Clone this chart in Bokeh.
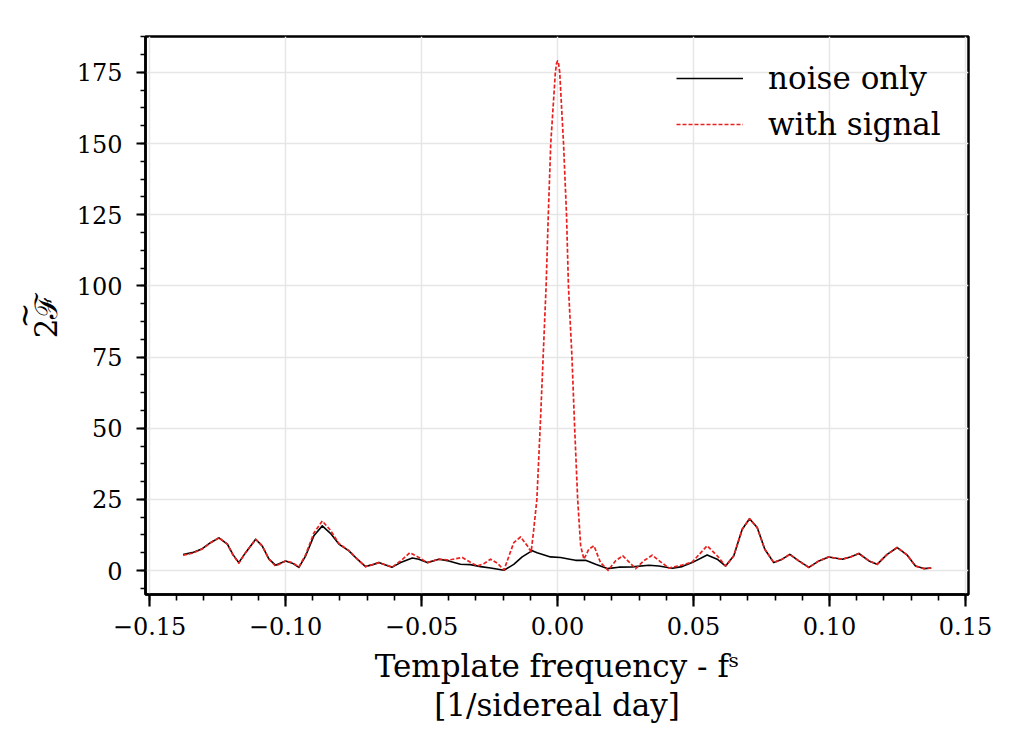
import numpy as np
from bokeh.plotting import figure
from bokeh.models import (Range1d, SingleIntervalTicker, CustomJSTickFormatter,
                          Legend, LegendItem)
from bokeh.embed import file_html
from bokeh.resources import INLINE

# ---- data ----
noise_x = [-0.1377, -0.1343, -0.1306, -0.1276, -0.1245, -0.1214, -0.1194, -0.1172, -0.1147, -0.1110,
           -0.1086, -0.1061, -0.1037, -0.1000, -0.0975, -0.0951, -0.0926, -0.0896, -0.0865, -0.0835,
           -0.0804, -0.0767, -0.0736, -0.0706, -0.0683, -0.0657, -0.0632, -0.0608, -0.0577, -0.0534,
           -0.0510, -0.0479, -0.0436, -0.0400, -0.0357, -0.0320, -0.0283, -0.0246, -0.0197, -0.0161,
           -0.0130, -0.0093, -0.0075, -0.0026, 0.0011, 0.0045, 0.0066, 0.0103, 0.0140, 0.0183,
           0.0225, 0.0275, 0.0336, 0.0372, 0.0422, 0.0458, 0.0495, 0.0550, 0.0587, 0.0618,
           0.0648, 0.0679, 0.0706, 0.0734, 0.0762, 0.0795, 0.0826, 0.0854, 0.0887, 0.0924,
           0.0961, 0.0997, 0.1047, 0.1077, 0.1108, 0.1145, 0.1175, 0.1212, 0.1249, 0.1286,
           0.1316, 0.1347, 0.1374]
noise_y = [5.6, 6.3, 7.7, 9.8, 11.5, 9.3, 5.7, 2.8, 6.3, 11.0,
           8.7, 4.0, 1.9, 3.4, 2.6, 1.1, 5.2, 12.2, 15.7, 13.1,
           9.3, 6.9, 4.0, 1.4, 2.0, 2.8, 2.0, 1.2, 2.8, 4.4,
           4.0, 2.8, 4.0, 3.4, 2.2, 2.1, 1.4, 0.9, 0.1, 2.2,
           4.8, 7.0, 6.3, 4.8, 4.6, 4.0, 3.6, 3.6, 2.2, 0.7,
           1.2, 1.3, 1.9, 1.6, 0.8, 1.4, 2.8, 5.5, 4.0, 1.6,
           5.2, 14.5, 18.2, 15.1, 7.5, 2.8, 4.0, 5.7, 3.4, 1.1,
           3.4, 4.8, 4.0, 4.8, 6.0, 3.4, 2.2, 5.7, 8.1, 5.4,
           1.6, 0.7, 0.9]

signal_x = [-0.1377, -0.1343, -0.1306, -0.1276, -0.1245, -0.1214, -0.1194, -0.1172, -0.1147, -0.1110,
            -0.1086, -0.1061, -0.1037, -0.1000, -0.0975, -0.0951, -0.0926, -0.0896, -0.0865, -0.0835,
            -0.0804, -0.0767, -0.0736, -0.0706, -0.0683, -0.0657, -0.0632, -0.0608, -0.0577, -0.0543,
            -0.0510, -0.0479, -0.0436, -0.0400, -0.0350, -0.0320, -0.0295, -0.0270, -0.0246, -0.0220,
            -0.0197, -0.0161, -0.0136, -0.0111, -0.0097, -0.0088, -0.0076, -0.0064, -0.0053, -0.0042,
            -0.0034, -0.0025, -0.0008, -0.0004, 0.0000, 0.0004, 0.0008, 0.0022, 0.0033, 0.0040,
            0.0053, 0.0063, 0.0074, 0.0085, 0.0097, 0.0115, 0.0134, 0.0158, 0.0186, 0.0213,
            0.0240, 0.0265, 0.0287, 0.0318, 0.0348, 0.0380, 0.0409, 0.0458, 0.0495, 0.0550,
            0.0587, 0.0618, 0.0648, 0.0679, 0.0706, 0.0734, 0.0762, 0.0795, 0.0826, 0.0854,
            0.0887, 0.0924, 0.0961, 0.0997, 0.1047, 0.1077, 0.1108, 0.1145, 0.1175, 0.1212,
            0.1249, 0.1286, 0.1316, 0.1347, 0.1374]
signal_y = [5.4, 6.1, 7.6, 9.8, 11.5, 9.3, 5.6, 2.6, 6.3, 11.0,
            8.7, 4.0, 1.6, 3.4, 2.8, 1.3, 5.6, 13.2, 17.4, 14.2,
            9.5, 7.0, 4.0, 1.4, 2.0, 2.8, 2.0, 1.2, 3.4, 6.3,
            4.6, 2.8, 4.0, 3.7, 4.6, 2.9, 1.6, 2.5, 4.0, 2.5,
            0.2, 9.8, 11.8, 8.7, 6.6, 14.0, 25.0, 50.0, 75.0, 100.0,
            125.0, 150.0, 175.0, 178.0, 179.0, 178.0, 175.0, 150.0, 125.0, 100.0,
            75.0, 50.0, 25.0, 8.7, 4.0, 7.5, 8.7, 2.8, 0.1, 3.4,
            5.2, 2.8, 0.7, 3.5, 5.4, 3.0, 0.9, 1.9, 3.0, 8.7,
            5.2, 1.6, 5.2, 14.5, 18.2, 15.1, 7.5, 2.8, 4.0, 5.7,
            3.4, 1.1, 3.4, 4.8, 4.0, 4.8, 6.0, 3.4, 2.2, 5.7,
            8.1, 5.4, 1.6, 0.7, 0.9]

series_labels = ["noise only", "with signal"]
x_label = "Template frequency - f\u02e2\n[1/sidereal day]"
y_label = "\u223c\n2\u2131"

FONT = "DejaVu Serif"

p = figure(width=1010, height=740, output_backend="svg", toolbar_location=None,
           x_range=Range1d(-0.1515, 0.1511), y_range=Range1d(-8.4, 187.6),
           min_border_left=145, min_border_top=36, min_border_right=42, min_border_bottom=146)
p.background_fill_color = "white"
p.border_fill_color = "white"
p.outline_line_color = "black"
p.outline_line_width = 2.5
p.outline_line_alpha = 1.0

p.xaxis.ticker = SingleIntervalTicker(interval=0.05, num_minor_ticks=5)
p.yaxis.ticker = SingleIntervalTicker(interval=25, num_minor_ticks=4)
p.xaxis.formatter = CustomJSTickFormatter(code="""
    const v = Math.abs(tick) < 1e-9 ? 0 : tick;
    const s = Math.abs(v).toFixed(2);
    return (v < 0 ? '\u2212' : '') + s;
""")

for ax in (p.xaxis[0], p.yaxis[0]):
    ax.axis_line_color = "black"
    ax.axis_line_width = 2.5
    ax.major_tick_line_color = "black"
    ax.major_tick_line_width = 2.2
    ax.minor_tick_line_color = "black"
    ax.minor_tick_line_width = 1.6
    ax.major_tick_in = 0
    ax.minor_tick_in = 0
    ax.major_label_text_font = FONT
    ax.major_label_text_font_size = "24px"
    ax.major_label_text_color = "black"
    ax.axis_label_text_font = FONT
    ax.axis_label_text_font_size = "31px"
    ax.axis_label_text_font_style = "normal"
    ax.axis_label_text_color = "black"

p.xaxis.major_tick_out = 12
p.xaxis.minor_tick_out = 6
p.xaxis.major_label_standoff = 10
p.xaxis.axis_label = x_label
p.xaxis.axis_label_standoff = 10
p.xaxis.axis_label_text_line_height = 1.1

p.yaxis.major_tick_out = 9
p.yaxis.minor_tick_out = 5
p.yaxis.major_label_standoff = 14
p.yaxis.axis_label = y_label
p.yaxis.axis_label_standoff = 10
p.yaxis.axis_label_text_line_height = 0.6

p.xgrid.grid_line_color = "#e6e6e6"
p.xgrid.grid_line_width = 1.5
p.ygrid.grid_line_color = "#e6e6e6"
p.ygrid.grid_line_width = 1.5

r1 = p.line(noise_x, noise_y, line_color="black", line_width=1.6, line_join="round")
r2 = p.line(signal_x, signal_y, line_color="#e8201f", line_width=1.7, line_dash="4 2",
            line_join="round")

legend = Legend(items=[LegendItem(label=series_labels[0], renderers=[r1]),
                       LegendItem(label=series_labels[1], renderers=[r2])],
                location=(519, 440), background_fill_alpha=0, border_line_alpha=0,
                label_text_font=FONT, label_text_font_size="31px", label_text_color="black",
                glyph_width=67, glyph_height=36, label_height=36, spacing=10,
                margin=0, padding=12, label_standoff=25)
p.add_layout(legend)

open("out.html", "w").write(file_html(p, INLINE))
